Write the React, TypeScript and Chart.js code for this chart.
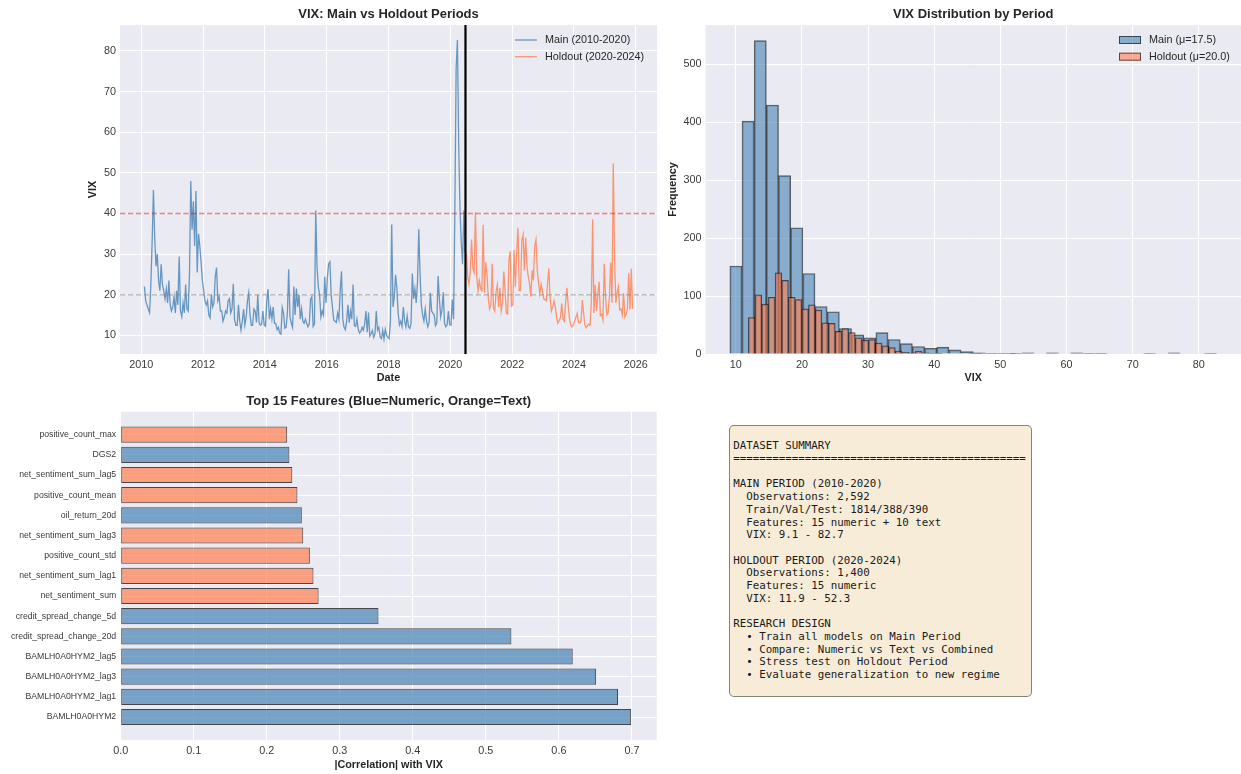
import { useEffect, useRef } from 'react';
import { Chart, registerables } from 'chart.js';

Chart.register(...registerables);

// ---------------------------------------------------------------------------
// Daily VIX condensed to two readings per month (first half, second half)
// ---------------------------------------------------------------------------
const MAIN_START = { year: 2010, month: 2 }; // Feb 2010
const HOLDOUT_START = { year: 2020, month: 7 }; // Jul 2020
const SPLIT_YEAR = 2020.49;

const mainVix = [
  // 2010 Feb-Dec
  22, 18.5, 17.5, 16.5, 15.6, 22.5, 33, 45.8, 34, 27, 30, 23.5, 21, 27.5, 22.5, 21, 19, 21.5, 18, 23.5, 17.5, 16,
  // 2011
  17, 19.5, 15.5, 21, 17.5, 29.4, 16, 14.6, 18, 15.5, 22.5, 16.5, 16, 25.3, 48, 36, 43, 32, 45.5, 25.5, 35, 32, 28, 23.5,
  // 2012
  21, 18.5, 17.5, 18.5, 15, 14.3, 20, 17, 18, 24.5, 26.7, 18.5, 19.5, 16, 16, 13.5, 14.5, 16, 15.5, 18.5, 19, 15.5, 16.5, 22.7,
  // 2013
  13.8, 12.5, 12.5, 17.5, 13.5, 11.3, 13.5, 16.5, 12.5, 14.5, 18.5, 20.5, 15, 12.5, 12.5, 16.5, 16, 13.2, 20, 13.2, 12.5, 12.8, 16, 12.5,
  // 2014
  12.3, 18.4, 21.4, 14, 16.5, 14, 17, 13, 12.9, 11.4, 12, 10.6, 10.3, 16.9, 15.5, 11.8, 12, 15.5, 26.3, 14.5, 13.1, 12, 22, 15,
  // 2015
  21.5, 17, 20, 14, 16.5, 13.5, 13, 14, 12.9, 12.1, 12.8, 18.9, 19.5, 12.2, 12.8, 40.7, 27, 22, 20, 14.5, 16, 15, 24.4, 18,
  // 2016
  24, 27.6, 28.1, 20, 16.9, 13.8, 13.5, 13.2, 15.5, 14, 21, 25.8, 14, 12, 11.4, 13.5, 17.5, 13.1, 16, 14, 22.5, 12.4, 12.2, 14,
  // 2017
  11.5, 10.6, 11, 12, 11.3, 12.8, 16, 10.8, 15.6, 9.8, 10.4, 11.2, 9.5, 10.3, 16, 11.3, 12, 9.6, 9.2, 11.3, 9.1, 11.5, 10, 9.5,
  // 2018
  9.2, 13.5, 37.3, 17, 19.5, 24.9, 21.5, 15.5, 12.6, 13.5, 12.2, 17, 13.5, 12.1, 14.8, 12.2, 11.7, 12.9, 25.2, 19, 21.5, 18, 23, 36.1,
  // 2019
  25, 17.4, 15, 13.5, 16.5, 13.7, 12.1, 13.2, 20.5, 16, 15.5, 15, 12.4, 13, 24.6, 19, 14.6, 16.3, 20.6, 13, 12.1, 12.6, 16, 12.6,
  // 2020 Jan-Jun
  12.5, 18.8, 14, 40.1, 75.5, 82.7, 57, 41, 33, 27.5, 40.8, 30.5,
];

const holdoutVix = [
  // 2020 Jul-Dec
  30, 24.5, 22.5, 26, 33.6, 26.5, 25.5, 40.3, 24.5, 21, 23.5, 21.5,
  // 2021
  21, 37.2, 20.5, 28, 25, 19, 16.5, 17.5, 27.6, 16.8, 16, 20.7, 22.5, 17, 21.7, 16, 18, 25.7, 21, 15.5, 15.3, 28.6, 30.7, 17.2,
  // 2022
  17.5, 31, 22, 30.3, 36.5, 21, 21, 33.4, 34.8, 26, 34, 27, 24.5, 22.8, 19.5, 26, 23.5, 32, 33.6, 26, 23, 20.3, 22.6, 21,
  // 2023
  19, 18.8, 18.5, 22.9, 26.5, 19, 16, 17, 18.5, 17, 14.5, 13, 13.6, 14.4, 17.9, 13.9, 13.5, 18, 21.7, 17.5, 14.2, 12.5, 12.1, 12.5,
  // 2024
  13.5, 14.5, 15.4, 13.2, 13, 13.6, 18.7, 15.4, 12.5, 11.9, 12.4, 12.8, 12.5, 18.5, 38.6, 15.5, 22.4, 16, 20, 23.2, 14.9, 15.2, 13.8, 27.6,
  // 2025 Jan-Nov
  19.5, 15, 15.5, 19.6, 27.9, 18, 52.3, 29, 18, 20.5, 22, 16.3, 16.5, 15, 20.4, 14.5, 15.2, 16.5, 25.3, 16.4, 26.4, 16.5,
];

const VIX_HIGH = 40;
const VIX_MID = 20;
const yearTicks = [2010, 2012, 2014, 2016, 2018, 2020, 2022, 2024, 2026];
const vixTicks = [10, 20, 30, 40, 50, 60, 70, 80];

// ---------------------------------------------------------------------------
// Histogram: 40 equal-width bins spanning each period's VIX range
// ---------------------------------------------------------------------------
const mainRange = [9.1, 82.7];
const holdoutRange = [11.9, 52.3];
const mainCounts = [
  152, 402, 541, 430, 308, 218, 139, 82, 73, 44, 33, 28, 37, 25, 18, 13, 10, 12, 7, 4,
  2, 1, 1, 1, 2, 0, 2, 0, 2, 1, 1, 0, 0, 0, 1, 0, 2, 0, 0, 1,
];
const holdoutCounts = [
  63, 102, 86, 98, 140, 127, 98, 94, 78, 85, 76, 54, 53, 39, 44, 37, 28, 24, 25, 19,
  14, 11, 5, 3, 2, 5, 2, 1, 1, 0, 0, 0, 0, 1, 1, 0, 0, 0, 0, 1,
];
const histTicksX = [10, 20, 30, 40, 50, 60, 70, 80];
const histTicksY = [0, 100, 200, 300, 400, 500];
const mainLabel = 'Main (μ=17.5)';
const holdoutLabel = 'Holdout (μ=20.0)';

// ---------------------------------------------------------------------------
// Feature ranking (ordered strongest first = bottom bar)
// ---------------------------------------------------------------------------
const featureNames = [
  'BAMLH0A0HYM2',
  'BAMLH0A0HYM2_lag1',
  'BAMLH0A0HYM2_lag3',
  'BAMLH0A0HYM2_lag5',
  'credit_spread_change_20d',
  'credit_spread_change_5d',
  'net_sentiment_sum',
  'net_sentiment_sum_lag1',
  'positive_count_std',
  'net_sentiment_sum_lag3',
  'oil_return_20d',
  'positive_count_mean',
  'net_sentiment_sum_lag5',
  'DGS2',
  'positive_count_max',
];
const featureCorr = [
  0.699, 0.681, 0.651, 0.619, 0.535, 0.353, 0.271, 0.264, 0.259, 0.250, 0.248, 0.242, 0.235, 0.231, 0.228,
];
const featureKind = [
  'numeric', 'numeric', 'numeric', 'numeric', 'numeric', 'numeric',
  'text', 'text', 'text', 'text', 'numeric', 'text', 'text', 'numeric', 'text',
];
const corrTicks = [0, 0.1, 0.2, 0.3, 0.4, 0.5, 0.6, 0.7];

// ---------------------------------------------------------------------------
// Summary panel text
// ---------------------------------------------------------------------------
const summaryLines = [
  'DATASET SUMMARY',
  '=============================================',
  '',
  'MAIN PERIOD (2010-2020)',
  '  Observations: 2,592',
  '  Train/Val/Test: 1814/388/390',
  '  Features: 15 numeric + 10 text',
  '  VIX: 9.1 - 82.7',
  '',
  'HOLDOUT PERIOD (2020-2024)',
  '  Observations: 1,400',
  '  Features: 15 numeric',
  '  VIX: 11.9 - 52.3',
  '',
  'RESEARCH DESIGN',
  '  • Train all models on Main Period',
  '  • Compare: Numeric vs Text vs Combined',
  '  • Stress test on Holdout Period',
  '  • Evaluate generalization to new regime',
];

// ---------------------------------------------------------------------------
// Styling
// ---------------------------------------------------------------------------
const FONT = '"Liberation Sans", Arial, Helvetica, sans-serif';
const MONO = '"DejaVu Sans Mono", "Liberation Mono", monospace';
const AX_BG = '#EAEAF2';
const TEXT = '#262626';
const TICK = '#3a3a3a';
const steel = (a: number) => `rgba(70,130,180,${a})`;
const coral = (a: number) => `rgba(255,127,80,${a})`;

const tickFont = { family: FONT, size: 10.8 };
const labelFont = { family: FONT, size: 10.8, weight: 'bold' as const };

Chart.defaults.font.family = FONT;

// helpers --------------------------------------------------------------------
function toYear(start: { year: number; month: number }, i: number) {
  const m = Math.floor(i / 2);
  const half = i % 2;
  return start.year + (start.month - 1 + m + 0.25 + 0.5 * half) / 12;
}

function seriesPoints(start: { year: number; month: number }, values: number[]) {
  return values.map((v, i) => ({ x: toYear(start, i), y: v }));
}

function binWidth(range: number[], counts: number[]) {
  return (range[1] - range[0]) / counts.length;
}

function binPoints(range: number[], counts: number[]) {
  const w = binWidth(range, counts);
  return counts.map((c, i) => ({ x: range[0] + w * (i + 0.5), y: c }));
}

// bar thickness in pixels equal to one bin on the chart's x scale
const binThickness = (w: number) => (ctx: any) => {
  const s = ctx.chart.scales.x;
  return Math.abs(s.getPixelForValue(w) - s.getPixelForValue(0));
};

function padRange(lo: number, hi: number, frac = 0.05) {
  const d = (hi - lo) * frac;
  return [lo - d, hi + d];
}

const fixTicks = (values: number[]) => (axis: any) => {
  axis.ticks = values.map((v) => ({ value: v }));
};

const gridOpts = { color: '#FFFFFF', lineWidth: 1, drawTicks: false };

// plugins --------------------------------------------------------------------
const areaBg = {
  id: 'areaBg',
  beforeDraw(chart: any) {
    const { ctx, chartArea: a } = chart;
    ctx.save();
    ctx.fillStyle = AX_BG;
    ctx.fillRect(a.left, a.top, a.right - a.left, a.bottom - a.top);
    ctx.restore();
  },
};

function panelTitle(text: string, offset: number) {
  return {
    id: 'panelTitle',
    afterDraw(chart: any) {
      const { ctx, chartArea: a } = chart;
      ctx.save();
      ctx.font = `bold 13px ${FONT}`;
      ctx.fillStyle = TEXT;
      ctx.textAlign = 'center';
      ctx.textBaseline = 'middle';
      ctx.fillText(text, (a.left + a.right) / 2, a.top - offset);
      ctx.restore();
    },
  };
}

type LegendEntry = { label: string; kind: 'line' | 'box'; color: string; edge?: string };

function panelLegend(entries: LegendEntry[], fromRight: number, fromTop: number, rowGap: number) {
  return {
    id: 'panelLegend',
    afterDraw(chart: any) {
      const { ctx, chartArea: a } = chart;
      ctx.save();
      ctx.font = `10.8px ${FONT}`;
      ctx.textBaseline = 'middle';
      entries.forEach((e, i) => {
        const x0 = a.right - fromRight;
        const y = a.top + fromTop + i * rowGap;
        if (e.kind === 'line') {
          ctx.strokeStyle = e.color;
          ctx.lineWidth = 1.3;
          ctx.beginPath();
          ctx.moveTo(x0, y);
          ctx.lineTo(x0 + 22, y);
          ctx.stroke();
        } else {
          ctx.fillStyle = e.color;
          ctx.fillRect(x0, y - 4, 22, 8);
          ctx.strokeStyle = e.edge || '#000';
          ctx.lineWidth = 1;
          ctx.strokeRect(x0 + 0.5, y - 3.5, 21, 7);
        }
        ctx.fillStyle = TEXT;
        ctx.fillText(e.label, x0 + 30, y);
      });
      ctx.restore();
    },
  };
}

// ---------------------------------------------------------------------------
// Chart configs
// ---------------------------------------------------------------------------
function timeSeriesConfig(): any {
  const mainPts = seriesPoints(MAIN_START, mainVix);
  const holdPts = seriesPoints(HOLDOUT_START, holdoutVix);
  const [xMin, xMax] = padRange(mainPts[0].x, holdPts[holdPts.length - 1].x);
  const [yMin, yMax] = padRange(Math.min(...mainVix, ...holdoutVix), Math.max(...mainVix, ...holdoutVix));

  return {
    type: 'line',
    data: {
      datasets: [
        {
          data: [{ x: SPLIT_YEAR, y: yMin }, { x: SPLIT_YEAR, y: yMax }],
          borderColor: '#000000',
          borderWidth: 2.2,
          pointRadius: 0,
          order: 0,
        },
        {
          data: [{ x: xMin, y: VIX_HIGH }, { x: xMax, y: VIX_HIGH }],
          borderColor: 'rgba(255,0,0,0.5)',
          borderWidth: 1.5,
          borderDash: [5.5, 2.4],
          pointRadius: 0,
          order: 1,
        },
        {
          data: [{ x: xMin, y: VIX_MID }, { x: xMax, y: VIX_MID }],
          borderColor: 'rgba(128,128,128,0.5)',
          borderWidth: 1.5,
          borderDash: [5.5, 2.4],
          pointRadius: 0,
          order: 1,
        },
        {
          label: 'Main (2010-2020)',
          data: mainPts,
          borderColor: steel(0.8),
          borderWidth: 1.3,
          pointRadius: 0,
          tension: 0,
          order: 2,
        },
        {
          label: 'Holdout (2020-2024)',
          data: holdPts,
          borderColor: coral(0.8),
          borderWidth: 1.3,
          pointRadius: 0,
          tension: 0,
          order: 2,
        },
      ],
    },
    options: {
      animation: false,
      responsive: false,
      events: [],
      layout: { padding: { left: 80, top: 25, right: 8, bottom: 0 } },
      scales: {
        x: {
          type: 'linear',
          min: xMin,
          max: xMax,
          afterBuildTicks: fixTicks(yearTicks),
          afterFit: (s: any) => { s.height = 36; },
          grid: gridOpts,
          border: { display: false },
          ticks: { font: tickFont, color: TICK, padding: 5, maxRotation: 0, autoSkip: false, callback: (v: number) => String(v) },
          title: { display: true, text: 'Date', font: labelFont, color: TEXT, padding: { top: 0, bottom: 5.2 } },
        },
        y: {
          type: 'linear',
          min: yMin,
          max: yMax,
          afterBuildTicks: fixTicks(vixTicks),
          afterFit: (s: any) => { s.width = 40; },
          grid: gridOpts,
          border: { display: false },
          ticks: { font: tickFont, color: TICK, padding: 4, callback: (v: number) => String(v) },
          title: { display: true, text: 'VIX', font: labelFont, color: TEXT, padding: { top: 6.5, bottom: 0 } },
        },
      },
      plugins: { legend: { display: false }, tooltip: { enabled: false } },
    },
    plugins: [
      areaBg,
      panelTitle('VIX: Main vs Holdout Periods', 11),
      panelLegend(
        [
          { label: 'Main (2010-2020)', kind: 'line', color: steel(0.8) },
          { label: 'Holdout (2020-2024)', kind: 'line', color: coral(0.8) },
        ],
        142, 15, 16.7,
      ),
    ],
  };
}

function histogramConfig(): any {
  const [xMin, xMax] = padRange(mainRange[0], mainRange[1]);
  const yMax = Math.max(...mainCounts, ...holdoutCounts) * 1.05;
  const edge = 'rgba(0,0,0,0.6)';
  return {
    type: 'bar',
    data: {
      datasets: [
        {
          label: mainLabel,
          data: binPoints(mainRange, mainCounts),
          backgroundColor: steel(0.6),
          borderColor: edge,
          borderWidth: 1,
          borderSkipped: 'start',
          grouped: false,
          barThickness: binThickness(binWidth(mainRange, mainCounts)),
          order: 1,
        },
        {
          label: holdoutLabel,
          data: binPoints(holdoutRange, holdoutCounts),
          backgroundColor: coral(0.6),
          borderColor: edge,
          borderWidth: 1,
          borderSkipped: 'start',
          grouped: false,
          barThickness: binThickness(binWidth(holdoutRange, holdoutCounts)),
          order: 0,
        },
      ],
    },
    options: {
      animation: false,
      responsive: false,
      events: [],
      layout: { padding: { left: 0, top: 25, right: 0, bottom: 0 } },
      scales: {
        x: {
          type: 'linear',
          min: xMin,
          max: xMax,
          offset: false,
          afterBuildTicks: fixTicks(histTicksX),
          afterFit: (s: any) => { s.height = 36; },
          grid: { ...gridOpts, offset: false },
          border: { display: false },
          ticks: { font: tickFont, color: TICK, padding: 5, maxRotation: 0, autoSkip: false, callback: (v: number) => String(v) },
          title: { display: true, text: 'VIX', font: labelFont, color: TEXT, padding: { top: 0, bottom: 5.2 } },
        },
        y: {
          type: 'linear',
          min: 0,
          max: yMax,
          afterBuildTicks: fixTicks(histTicksY),
          afterFit: (s: any) => { s.width = 45.5; },
          grid: gridOpts,
          border: { display: false },
          ticks: { font: tickFont, color: TICK, padding: 4, callback: (v: number) => String(v) },
          title: { display: true, text: 'Frequency', font: labelFont, color: TEXT, padding: { top: 6.5, bottom: 0 } },
        },
      },
      plugins: { legend: { display: false }, tooltip: { enabled: false } },
    },
    plugins: [
      areaBg,
      panelTitle('VIX Distribution by Period', 11),
      panelLegend(
        [
          { label: mainLabel, kind: 'box', color: steel(0.6), edge: 'rgba(0,0,0,0.6)' },
          { label: holdoutLabel, kind: 'box', color: coral(0.6), edge: 'rgba(0,0,0,0.6)' },
        ],
        122, 15, 16.7,
      ),
    ],
  };
}

function featureConfig(): any {
  const n = featureNames.length;
  const yMin = -0.4 - (n - 1 + 0.8) * 0.05;
  const yMax = n - 1 + 0.4 + (n - 1 + 0.8) * 0.05;
  const xMax = Math.max(...featureCorr) * 1.05;
  return {
    type: 'bar',
    data: {
      datasets: [
        {
          data: featureCorr.map((v, i) => ({ x: v, y: i })),
          backgroundColor: featureKind.map((k) => (k === 'text' ? coral(0.7) : steel(0.7))),
          borderColor: 'rgba(0,0,0,0.7)',
          borderWidth: 1,
          borderSkipped: false,
          categoryPercentage: 1,
          barPercentage: 0.8,
        },
      ],
    },
    options: {
      indexAxis: 'y',
      animation: false,
      responsive: false,
      events: [],
      layout: { padding: { left: 0, top: 21.7, right: 8.3, bottom: 0 } },
      scales: {
        x: {
          type: 'linear',
          min: 0,
          max: xMax,
          afterBuildTicks: fixTicks(corrTicks),
          afterFit: (s: any) => { s.height = 34; },
          grid: gridOpts,
          border: { display: false },
          ticks: { font: tickFont, color: TICK, padding: 5, maxRotation: 0, autoSkip: false, callback: (v: number) => v.toFixed(1) },
          title: { display: true, text: '|Correlation| with VIX', font: labelFont, color: TEXT, padding: { top: 0, bottom: 2.5 } },
        },
        y: {
          type: 'linear',
          min: yMin,
          max: yMax,
          offset: false,
          afterBuildTicks: fixTicks(featureNames.map((_, i) => i)),
          afterFit: (s: any) => { s.width = 120.7; },
          grid: { ...gridOpts, offset: false },
          border: { display: false },
          ticks: { font: { family: FONT, size: 8.7 }, color: TICK, padding: 4.5, autoSkip: false, callback: (v: number) => featureNames[v] ?? '' },
        },
      },
      plugins: { legend: { display: false }, tooltip: { enabled: false } },
    },
    plugins: [areaBg, panelTitle('Top 15 Features (Blue=Numeric, Orange=Text)', 10)],
  };
}

// ---------------------------------------------------------------------------
export default function App() {
  const tsRef = useRef<HTMLCanvasElement>(null);
  const histRef = useRef<HTMLCanvasElement>(null);
  const featRef = useRef<HTMLCanvasElement>(null);

  useEffect(() => {
    const charts = [
      new Chart(tsRef.current as HTMLCanvasElement, timeSeriesConfig()),
      new Chart(histRef.current as HTMLCanvasElement, histogramConfig()),
      new Chart(featRef.current as HTMLCanvasElement, featureConfig()),
    ];
    return () => charts.forEach((c) => c.destroy());
  }, []);

  return (
    <div
      style={{
        position: 'fixed',
        left: 0,
        top: 0,
        width: 1241,
        height: 774,
        background: '#FFFFFF',
        overflow: 'hidden',
      }}
    >
      <canvas ref={tsRef} width={665} height={390} style={{ position: 'absolute', left: 0, top: 0 }} />
      <canvas ref={histRef} width={581} height={390} style={{ position: 'absolute', left: 660, top: 0 }} />
      <canvas ref={featRef} width={665} height={384} style={{ position: 'absolute', left: 0, top: 390 }} />
      <div
        style={{
          position: 'absolute',
          left: 729,
          top: 425,
          width: 303,
          height: 272,
          boxSizing: 'border-box',
          background: 'rgb(247,236,216)',
          border: '1px solid rgba(0,0,0,0.45)',
          borderRadius: 5,
        }}
      >
        <pre
          style={{
            position: 'absolute',
            left: 3.3,
            top: 14.3,
            margin: 0,
            fontFamily: MONO,
            fontSize: 10.8,
            lineHeight: '12.7px',
            color: '#1a1a1a',
          }}
        >
          {summaryLines.join('\n')}
        </pre>
      </div>
    </div>
  );
}
